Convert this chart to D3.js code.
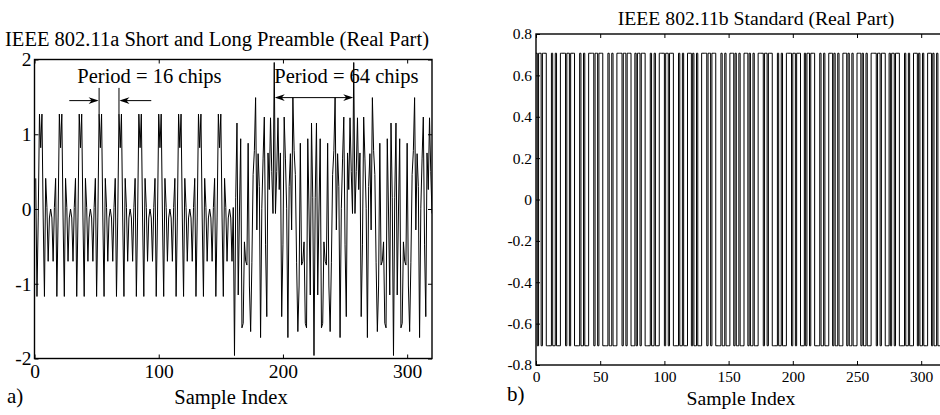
<!DOCTYPE html>
<html><head><meta charset="utf-8">
<script src="https://cdn.jsdelivr.net/npm/d3@7"></script>
<style>
html,body{margin:0;padding:0;background:#fff;}
svg{display:block;font-family:"Liberation Serif","Times New Roman",serif;}
</style></head><body>
<svg id="chart" width="940" height="415"></svg>
<script>
// ---------------- data ----------------
const ofdmTitle = "IEEE 802.11a Short and Long Preamble (Real Part)";
const dsssTitle = "IEEE 802.11b Standard (Real Part)";
const xLabel = "Sample Index";
const ofdmXTicks = [0, 100, 200, 300];
const ofdmYTicks = [-2, -1, 0, 1, 2];
const dsssXTicks = [0, 50, 100, 150, 200, 250, 300];
const dsssYTicks = [-0.8, -0.6, -0.4, -0.2, 0, 0.2, 0.4, 0.6, 0.8];

// 802.11a preamble, real part, samples 1..320 (10 short symbols, GI2, 2 long symbols)
const ofdmPreamble = [
0.41,-1.17,-0.12,1.27,0.82,1.27,-0.12,-1.17,0.41,0.02,-0.70,-0.12,0.00,-0.12,-0.70,0.02,
0.41,-1.17,-0.12,1.27,0.82,1.27,-0.12,-1.17,0.41,0.02,-0.70,-0.12,0.00,-0.12,-0.70,0.02,
0.41,-1.17,-0.12,1.27,0.82,1.27,-0.12,-1.17,0.41,0.02,-0.70,-0.12,0.00,-0.12,-0.70,0.02,
0.41,-1.17,-0.12,1.27,0.82,1.27,-0.12,-1.17,0.41,0.02,-0.70,-0.12,0.00,-0.12,-0.70,0.02,
0.41,-1.17,-0.12,1.27,0.82,1.27,-0.12,-1.17,0.41,0.02,-0.70,-0.12,0.00,-0.12,-0.70,0.02,
0.41,-1.17,-0.12,1.27,0.82,1.27,-0.12,-1.17,0.41,0.02,-0.70,-0.12,0.00,-0.12,-0.70,0.02,
0.41,-1.17,-0.12,1.27,0.82,1.27,-0.12,-1.17,0.41,0.02,-0.70,-0.12,0.00,-0.12,-0.70,0.02,
0.41,-1.17,-0.12,1.27,0.82,1.27,-0.12,-1.17,0.41,0.02,-0.70,-0.12,0.00,-0.12,-0.70,0.02,
0.41,-1.17,-0.12,1.27,0.82,1.27,-0.12,-1.17,0.41,0.02,-0.70,-0.12,0.00,-0.12,-0.70,0.02,
0.41,-1.17,-0.12,1.27,0.82,1.27,-0.12,-1.17,0.41,0.02,-0.70,-0.12,0.00,-0.12,-0.70,0.02,
-1.96,0.15,1.15,-1.15,-0.04,0.94,-1.59,-1.53,-0.44,-0.70,-0.75,0.88,-1.03,-1.64,-0.72,0.46,
0.78,1.49,-0.28,0.74,0.30,-1.72,0.01,0.67,1.23,-0.48,-1.44,0.75,0.26,1.22,0.50,-0.06,
1.96,-0.06,0.50,1.22,0.26,0.75,-1.44,-0.48,1.23,0.67,0.01,-1.72,0.30,0.74,-0.28,1.49,
0.78,0.46,-0.72,-1.64,-1.03,0.88,-0.75,-0.70,-0.44,-1.53,-1.59,0.94,-0.04,-1.15,1.15,0.15,
-1.96,0.15,1.15,-1.15,-0.04,0.94,-1.59,-1.53,-0.44,-0.70,-0.75,0.88,-1.03,-1.64,-0.72,0.46,
0.78,1.49,-0.28,0.74,0.30,-1.72,0.01,0.67,1.23,-0.48,-1.44,0.75,0.26,1.22,0.50,-0.06,
1.96,-0.06,0.50,1.22,0.26,0.75,-1.44,-0.48,1.23,0.67,0.01,-1.72,0.30,0.74,-0.28,1.49,
0.78,0.46,-0.72,-1.64,-1.03,0.88,-0.75,-0.70,-0.44,-1.53,-1.59,0.94,-0.04,-1.15,1.15,0.15,
-1.96,0.15,1.15,-1.15,-0.04,0.94,-1.59,-1.53,-0.44,-0.70,-0.75,0.88,-1.03,-1.64,-0.72,0.46,
0.78,1.49,-0.28,0.74,0.30,-1.72,0.01,0.67,1.23,-0.48,-1.44,0.75,0.26,1.22,0.50,-0.06
];

// 802.11b chips, real part (11-chip Barker symbols), sample index 0..329
const dsssChips = [
0.707,-0.707,0.707,0.707,-0.707,0.707,0.707,0.707,-0.707,-0.707,-0.707,
-0.707,0.707,-0.707,-0.707,0.707,-0.707,-0.707,-0.707,0.707,0.707,0.707,
0.707,-0.707,0.707,0.707,-0.707,0.707,0.707,0.707,-0.707,-0.707,-0.707,
-0.707,0.707,-0.707,-0.707,0.707,-0.707,-0.707,-0.707,0.707,0.707,0.707,
0.707,-0.707,0.707,0.707,-0.707,0.707,0.707,0.707,-0.707,-0.707,-0.707,
-0.707,0.707,-0.707,-0.707,0.707,-0.707,-0.707,-0.707,0.707,0.707,0.707,
0.707,-0.707,0.707,0.707,-0.707,0.707,0.707,0.707,-0.707,-0.707,-0.707,
0.707,-0.707,0.707,0.707,-0.707,0.707,0.707,0.707,-0.707,-0.707,-0.707,
-0.707,0.707,-0.707,-0.707,0.707,-0.707,-0.707,-0.707,0.707,0.707,0.707,
0.707,-0.707,0.707,0.707,-0.707,0.707,0.707,0.707,-0.707,-0.707,-0.707,
-0.707,0.707,-0.707,-0.707,0.707,-0.707,-0.707,-0.707,0.707,0.707,0.707,
-0.707,0.707,-0.707,-0.707,0.707,-0.707,-0.707,-0.707,0.707,0.707,0.707,
0.707,-0.707,0.707,0.707,-0.707,0.707,0.707,0.707,-0.707,-0.707,-0.707,
-0.707,0.707,-0.707,-0.707,0.707,-0.707,-0.707,-0.707,0.707,0.707,0.707,
-0.707,0.707,-0.707,-0.707,0.707,-0.707,-0.707,-0.707,0.707,0.707,0.707,
-0.707,0.707,-0.707,-0.707,0.707,-0.707,-0.707,-0.707,0.707,0.707,0.707,
0.707,-0.707,0.707,0.707,-0.707,0.707,0.707,0.707,-0.707,-0.707,-0.707,
-0.707,0.707,-0.707,-0.707,0.707,-0.707,-0.707,-0.707,0.707,0.707,0.707,
0.707,-0.707,0.707,0.707,-0.707,0.707,0.707,0.707,-0.707,-0.707,-0.707,
0.707,-0.707,0.707,0.707,-0.707,0.707,0.707,0.707,-0.707,-0.707,-0.707,
-0.707,0.707,-0.707,-0.707,0.707,-0.707,-0.707,-0.707,0.707,0.707,0.707,
-0.707,0.707,-0.707,-0.707,0.707,-0.707,-0.707,-0.707,0.707,0.707,0.707,
-0.707,0.707,-0.707,-0.707,0.707,-0.707,-0.707,-0.707,0.707,0.707,0.707,
-0.707,0.707,-0.707,-0.707,0.707,-0.707,-0.707,-0.707,0.707,0.707,0.707,
0.707,-0.707,0.707,0.707,-0.707,0.707,0.707,0.707,-0.707,-0.707,-0.707,
0.707,-0.707,0.707,0.707,-0.707,0.707,0.707,0.707,-0.707,-0.707,-0.707,
-0.707,0.707,-0.707,-0.707,0.707,-0.707,-0.707,-0.707,0.707,0.707,0.707,
-0.707,0.707,-0.707,-0.707,0.707,-0.707,-0.707,-0.707,0.707,0.707,0.707,
-0.707,0.707,-0.707,-0.707,0.707,-0.707,-0.707,-0.707,0.707,0.707,0.707,
0.707,-0.707,0.707,0.707,-0.707,0.707,0.707,0.707,-0.707,-0.707,-0.707
];

// annotations (data units)
const shortPeriod = {label: "Period = 16 chips", from: 52, to: 68, y: 1.45, top: 1.62, peak: 1.27, tail: 24};
const longPeriod  = {label: "Period = 64 chips", from: 193, to: 257, y: 1.49};

// ---------------- drawing ----------------
const svg = d3.select("#chart");
const FONT = "Liberation Serif, Times New Roman, serif";

function drawAxes(x, y, xt, yt, fs, tickLen, padX, padY, fmtY) {
  const [x0, x1] = x.range();
  const [yb, yt0] = y.range();
  const g = svg.append("g");
  const style = sel => sel.attr("font-family", FONT).attr("font-size", fs)
    .call(s => s.select(".domain").remove())
    .call(s => s.selectAll(".tick line").attr("stroke", "#000").attr("stroke-width", 1))
    .call(s => s.selectAll(".tick text").attr("fill", "#000"));
  g.append("g").attr("transform", `translate(0,${yb})`)
    .call(d3.axisBottom(x).tickValues(xt).tickSizeInner(-tickLen).tickSizeOuter(0).tickPadding(padX).tickFormat(d => String(d)))
    .call(style);
  g.append("g").attr("transform", `translate(0,${yt0})`)
    .call(d3.axisTop(x).tickValues(xt).tickSizeInner(-tickLen).tickSizeOuter(0).tickFormat(""))
    .call(style);
  g.append("g").attr("transform", `translate(${x0},0)`)
    .call(d3.axisLeft(y).tickValues(yt).tickSizeInner(-tickLen).tickSizeOuter(0).tickPadding(padY).tickFormat(fmtY))
    .call(style);
  g.append("g").attr("transform", `translate(${x1},0)`)
    .call(d3.axisRight(y).tickValues(yt).tickSizeInner(-tickLen).tickSizeOuter(0).tickFormat(""))
    .call(style);
  g.append("rect").attr("x", x0).attr("y", yt0).attr("width", x1 - x0).attr("height", yb - yt0)
    .attr("fill", "none").attr("stroke", "#000").attr("stroke-width", 1.4);
}

function clip(id, x, y) {
  const [x0, x1] = x.range(); const [yb, yt0] = y.range();
  svg.append("clipPath").attr("id", id).append("rect")
    .attr("x", x0).attr("y", yt0 - 2).attr("width", x1 - x0).attr("height", yb - yt0 + 4);
  return `url(#${id})`;
}

// ----- panel a -----
const xL = d3.scaleLinear().domain([0, 320]).range([34.5, 432]);
const yL = d3.scaleLinear().domain([-2, 2]).range([358.5, 59.5]);

svg.append("path").datum(ofdmPreamble)
  .attr("clip-path", clip("clipA", xL, yL))
  .attr("fill", "none").attr("stroke", "#000").attr("stroke-width", 1)
  .attr("d", d3.line().x((d, i) => xL(i + 1)).y(d => yL(d)));

drawAxes(xL, yL, ofdmXTicks, ofdmYTicks, 19.5, 4, 6, 3, d => String(d));

svg.append("text").attr("x", 217).attr("y", 45.5).attr("text-anchor", "middle")
  .attr("font-size", 20.5).text(ofdmTitle);
svg.append("text").attr("x", 231).attr("y", 404).attr("text-anchor", "middle")
  .attr("font-size", 20.5).text(xLabel);
svg.append("text").attr("x", 7).attr("y", 403).attr("font-size", 21).text("a)");

// arrowhead: tip at (tx,ty) pointing in direction dir (+1 right, -1 left)
function head(tx, ty, dir) {
  const L = 10, W = 3.4, N = 7;
  svg.append("path")
    .attr("d", `M${tx},${ty} L${tx - dir * L},${ty - W} L${tx - dir * N},${ty} L${tx - dir * L},${ty + W} Z`)
    .attr("fill", "#000");
}

// short period annotation
svg.append("text").attr("x", xL(34.5)).attr("y", 83).attr("font-size", 20.5).text(shortPeriod.label);
[shortPeriod.from, shortPeriod.to].forEach(v => {
  svg.append("line").attr("x1", xL(v)).attr("x2", xL(v))
    .attr("y1", yL(shortPeriod.top)).attr("y2", yL(shortPeriod.peak))
    .attr("stroke", "#000").attr("stroke-width", 1);
});
svg.append("line").attr("x1", xL(shortPeriod.from - shortPeriod.tail)).attr("x2", xL(shortPeriod.from) - 2)
  .attr("y1", yL(shortPeriod.y)).attr("y2", yL(shortPeriod.y)).attr("stroke", "#000");
head(xL(shortPeriod.from) - 0.5, yL(shortPeriod.y), 1);
svg.append("line").attr("x1", xL(shortPeriod.to + 26)).attr("x2", xL(shortPeriod.to) + 2)
  .attr("y1", yL(shortPeriod.y)).attr("y2", yL(shortPeriod.y)).attr("stroke", "#000");
head(xL(shortPeriod.to) + 0.5, yL(shortPeriod.y), -1);

// long period annotation
svg.append("text").attr("x", xL(longPeriod.from)).attr("y", 83).attr("font-size", 20.5).text(longPeriod.label);
svg.append("line").attr("x1", xL(longPeriod.from) + 2).attr("x2", xL(longPeriod.to) - 2)
  .attr("y1", yL(longPeriod.y)).attr("y2", yL(longPeriod.y)).attr("stroke", "#000");
head(xL(longPeriod.from) + 0.5, yL(longPeriod.y), -1);
head(xL(longPeriod.to) - 0.5, yL(longPeriod.y), 1);

// ----- panel b -----
const xR = d3.scaleLinear().domain([0, 320]).range([536, 536 + 1.284 * 320]);
const yR = d3.scaleLinear().domain([-0.8, 0.8]).range([365, 34]);

svg.append("path").datum(dsssChips)
  .attr("clip-path", clip("clipB", xR, yR))
  .attr("fill", "none").attr("stroke", "#000").attr("stroke-width", 1)
  .attr("d", d3.line().x((d, i) => xR(i)).y(d => yR(d)).curve(d3.curveStepAfter));

drawAxes(xR, yR, dsssXTicks, dsssYTicks, 15.5, 4, 6, 4, d => String(Math.round(d * 10) / 10));

svg.append("text").attr("x", 756).attr("y", 24.5).attr("text-anchor", "middle")
  .attr("font-size", 19.7).text(dsssTitle);
svg.append("text").attr("x", 741).attr("y", 405).attr("text-anchor", "middle")
  .attr("font-size", 19.7).text(xLabel);
svg.append("text").attr("x", 507).attr("y", 401).attr("font-size", 21).text("b)");
</script>
</body></html>
